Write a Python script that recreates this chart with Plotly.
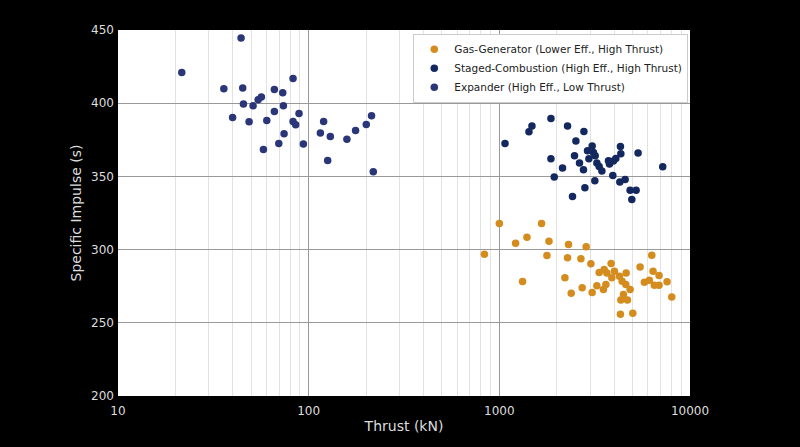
import plotly.graph_objects as go

# Gas-generator engines: thrust (kN), Isp (s)
gg_thrust = [835, 1000, 1217, 1396, 1324, 1665, 1821, 1777, 2306, 2279, 2854, 2678,
             3021, 2208, 2382, 2720, 3068, 3247, 3339, 3546, 3858, 3664, 4015, 3890,
             3516, 3620, 4265, 4623, 4406, 4607, 4852, 4475, 4338, 4696, 4317, 5012,
             5473, 6302, 6401, 6882, 5764, 6122, 6502, 6882, 7579, 8023]
gg_isp = [296.8, 317.8, 304.3, 308.4, 278.2, 317.8, 305.7, 295.9, 303.4, 294.4, 301.9, 293.7,
          290.3, 280.7, 270.2, 273.9, 270.7, 275.3, 284.4, 286.4, 290.5, 284.1, 285.2, 280.7,
          272.8, 276.2, 281.8, 284.1, 278.4, 276.2, 272.8, 269.4, 265.5, 265.5, 255.9, 256.6,
          288.2, 296.1, 285.2, 282.3, 277.7, 279.1, 275.7, 275.7, 278.0, 267.6]

# Staged-combustion engines
sc_thrust = [1071, 1430, 1483, 1865, 2279, 2777, 2521, 3068, 2900, 3117, 3181, 2479,
             2949, 2633, 3247, 3339, 2763, 3450, 1865, 2145, 1941, 3736, 3781, 3967,
             4083, 4317, 4338, 5342, 3938, 4285, 4568, 3169, 2810, 2420, 4852, 5216,
             4953, 7195]
sc_isp = [372.5, 380.5, 384.4, 389.5, 384.4, 380.7, 374.1, 370.7, 367.5, 366.3, 364.1, 364.1,
          362.1, 359.1, 359.1, 356.8, 354.6, 353.7, 362.1, 355.7, 349.6, 360.7, 358.5, 360.5,
          362.3, 370.4, 365.5, 366.0, 350.7, 346.2, 347.8, 347.0, 342.3, 336.3, 340.5, 340.5,
          334.3, 356.6]

# Expander engines
ex_thrust = [21.6, 44.2, 35.9, 45.1, 45.5, 51.1, 54.3, 56.5, 39.9, 48.7, 60.3, 66.1,
             66.1, 73.1, 73.7, 82.8, 89.0, 82.8, 85.5, 74.3, 69.7, 57.9, 93.8, 119.8,
             115.2, 129.9, 125.8, 158.7, 176.2, 200.5, 213.7, 218.2]
ex_isp = [420.9, 444.5, 409.8, 410.3, 399.4, 398.2, 402.3, 404.3, 390.2, 387.3, 388.2, 394.3,
          409.3, 407.1, 398.2, 416.8, 392.9, 387.5, 385.2, 379.1, 372.5, 368.4, 372.1, 387.5,
          379.6, 377.3, 360.9, 375.3, 381.4, 385.4, 391.4, 353.2]

x_ticks = [10, 100, 1000, 10000]
y_ticks = [200, 250, 300, 350, 400, 450]

series = [
    ("Gas-Generator (Lower Eff., High Thrust)", gg_thrust, gg_isp, "#D48C1E"),
    ("Staged-Combustion (High Eff., High Thrust)", sc_thrust, sc_isp, "#142860"),
    ("Expander (High Eff., Low Thrust)", ex_thrust, ex_isp, "#2A3678"),
]

fig = go.Figure()
for name, xs, ys, color in series:
    fig.add_trace(go.Scatter(x=xs, y=ys, mode="markers", name=name,
                             marker=dict(size=7.5, color=color, line=dict(width=0))))

# light minor grid at 2..9 of every decade
minor_vals = [k * 10 ** d for d in range(1, 4) for k in range(2, 10)]

font = "DejaVu Sans, sans-serif"
fig.update_layout(
    width=800, height=447,
    paper_bgcolor="black", plot_bgcolor="white",
    margin=dict(l=118, r=110, t=30, b=51, autoexpand=False),
    font=dict(family=font, size=12, color="#dddddd"),
    showlegend=True,
    legend=dict(x=0.997, y=0.99, xanchor="right", yanchor="top",
                bgcolor="white", bordercolor="#cccccc", borderwidth=1,
                font=dict(family=font, size=10.5, color="#222222"),
                tracegroupgap=0),
)
fig.update_xaxes(
    type="log", range=[1, 4], title=dict(text="Thrust (kN)", standoff=4),
    tickvals=x_ticks, ticktext=[str(v) for v in x_ticks], ticklabelstandoff=6,
    showgrid=True, gridcolor="#999999", gridwidth=1, zeroline=False,
    showline=False, ticks="", automargin=False,
    minor=dict(tickvals=minor_vals, showgrid=True, gridcolor="#e2e2e2",
               gridwidth=1, ticks=""),
)
fig.update_yaxes(
    range=[200, 450], title=dict(text="Specific Impulse (s)", standoff=6),
    tickvals=y_ticks, ticklabelstandoff=3,
    showgrid=True, gridcolor="#999999", gridwidth=1, zeroline=False,
    showline=False, ticks="", automargin=False,
)

fig.write_html(
    "out.html",
    config={"displayModeBar": False},
    post_script="document.body.style.margin='0';document.body.style.background='black';",
)
